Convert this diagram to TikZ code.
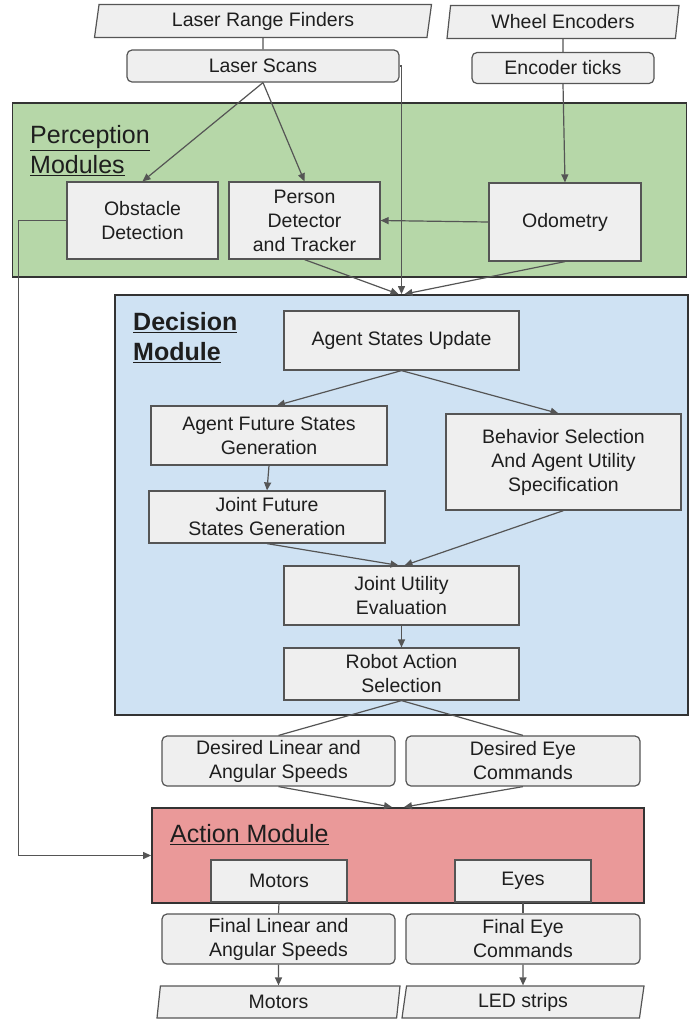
\documentclass[tikz,border=0pt]{standalone}
\usepackage{fontspec}
\setmainfont{Liberation Sans}
\usetikzlibrary{shapes.geometric,arrows.meta}
\definecolor{boxfill}{HTML}{EFEFEF}
\definecolor{boxline}{HTML}{555555}
\definecolor{modline}{HTML}{333333}
\definecolor{percfill}{HTML}{B6D7A8}
\definecolor{decfill}{HTML}{CFE2F3}
\definecolor{actfill}{HTML}{EA9999}
\definecolor{txt}{HTML}{1E1E1E}
\tikzset{
   box/.style ={
      rectangle, draw=boxline, fill=boxfill, line width=1.2pt,
      inner sep=0pt, align=center, text=txt,
      font=\fontsize{19.5}{24}\selectfont,
   },
   rbox/.style ={
      box, rounded corners=5pt,
   },
   io/.style ={
      box, trapezium, trapezium left angle=76, trapezium right angle=104,
      trapezium stretches body,
   },
   module/.style ={
      rectangle, draw=modline, line width=1.8pt, inner sep=0pt,
   },
   heading/.style ={
      anchor=north west, inner sep=0pt, align=left, text=txt,
      font=\fontsize{25}{30}\selectfont,
   },
   line/.style ={
      -, line width=1.2pt, color=boxline,
   },
   arrow/.style ={
      -{Triangle[length=8pt,width=7pt]}, line width=1.2pt, color=boxline,
   },
}
\begin{document}
\begin{tikzpicture}[x=1pt,y=-1pt]
   \useasboundingbox (0,0) rectangle (697,1021);

   % modules
   \node[module, fill=percfill, minimum width=674pt, minimum height=174pt] (perc) at (349.5,190) {};
   \node[module, fill=decfill, minimum width=573pt, minimum height=420pt] (dec) at (401.5,505) {};
   \node[module, fill=actfill, minimum width=492pt, minimum height=95pt] (act) at (398,855.5) {};

   \node[heading] (perctitle) at (30,125) {\underline{Perception}\\\underline{Modules}};
   \node[heading, font=\fontsize{25}{30}\selectfont\bfseries] (dectitle) at (133,312) {\underline{Decision}\\\underline{Module}};
   \node[heading] (acttitle) at (170,824) {\underline{Action Module}};

   % sensors
   \node[io, minimum width=337pt, minimum height=33pt] (lrf) at (263,21) {Laser Range Finders};
   \node[io, minimum width=232pt, minimum height=33pt] (wenc) at (563,22) {Wheel Encoders};
   \node[rbox, minimum width=272pt, minimum height=32pt] (scans) at (263,66) {Laser Scans};
   \node[rbox, minimum width=182pt, minimum height=31pt] (ticks) at (563,68) {Encoder ticks};

   % perception
   \node[box, minimum width=151pt, minimum height=77pt] (obst) at (142.5,220.5) {Obstacle\\Detection};
   \node[box, minimum width=151pt, minimum height=77pt] (person) at (304.5,220.5) {Person\\Detector\\and Tracker};
   \node[box, minimum width=152pt, minimum height=78pt] (odo) at (565,222) {Odometry};

   % decision
   \node[box, minimum width=235pt, minimum height=59pt] (asu) at (401.5,340.5) {Agent States Update};
   \node[box, minimum width=236pt, minimum height=59pt] (afs) at (269,435.5) {Agent Future States\\Generation};
   \node[box, minimum width=235pt, minimum height=96pt] (beh) at (563.5,462) {Behavior Selection\\And Agent Utility\\Specification};
   \node[box, minimum width=236pt, minimum height=52pt] (jfs) at (267,517) {Joint Future\\States Generation};
   \node[box, minimum width=235pt, minimum height=59pt] (jue) at (401.5,595.5) {Joint Utility\\Evaluation};
   \node[box, minimum width=235pt, minimum height=52pt] (ras) at (401.5,674) {Robot Action\\Selection};

   % action
   \node[rbox, minimum width=233pt, minimum height=50pt] (dls) at (278.5,761) {Desired Linear and\\Angular Speeds};
   \node[rbox, minimum width=234pt, minimum height=50pt] (des) at (523,761) {Desired Eye\\Commands};
   \node[box, minimum width=136pt, minimum height=42pt] (mot) at (279,881) {Motors};
   \node[box, minimum width=136pt, minimum height=42pt] (eyes) at (523,881) {Eyes};
   \node[rbox, minimum width=233pt, minimum height=50pt] (fls) at (278.5,939) {Final Linear and\\Angular Speeds};
   \node[rbox, minimum width=234pt, minimum height=50pt] (fes) at (523,939) {Final Eye\\Commands};
   \node[io, minimum width=243pt, minimum height=32pt] (motout) at (278.5,1002) {Motors};
   \node[io, minimum width=242pt, minimum height=32pt] (led) at (523,1002) {LED strips};

   \draw[line]  (lrf.south)    -- (scans.north);
   \draw[line]  (wenc.south)   -- (ticks.north);
   \draw[arrow] (scans.south)  -- (obst.north);
   \draw[arrow] (scans.south)  -- (person.north);
   \draw[arrow] (ticks.south)  -- (odo.north);
   \draw[arrow] (odo.west)     -- (person.east);
   \draw[arrow] (scans.east)   -| (dec.north);
   \draw[arrow] (person.south) -- ([xshift=-3pt]dec.north);
   \draw[arrow] (odo.south)    -- ([xshift=3pt]dec.north);
   \draw[arrow] (obst.west)    -- ++(-48,0) |- (act.west);

   \draw[arrow] (asu.south)    -- ([xshift=8pt]afs.north);
   \draw[arrow] (asu.south)    -- ([xshift=-5pt]beh.north);
   \draw[arrow] (afs.south)    -- (jfs.north);
   \draw[arrow] (jfs.south)    -- ([xshift=-3pt]jue.north);
   \draw[arrow] (beh.south)    -- ([xshift=3pt]jue.north);
   \draw[arrow] (jue.south)    -- (ras.north);
   \draw[line]  (ras.south)    -- (dls.north);
   \draw[line]  (ras.south)    -- (des.north);

   \draw[arrow] (dls.south)    -- ([xshift=-6pt]act.north);
   \draw[arrow] (des.south)    -- ([xshift=6pt]act.north);
   \draw[line]  (mot.south)    -- (fls.north);
   \draw[line]  (eyes.south)   -- (fes.north);
   \draw[arrow] (fls.south)    -- (motout.north);
   \draw[arrow] (fes.south)    -- (led.north);

\end{tikzpicture}
\end{document}
